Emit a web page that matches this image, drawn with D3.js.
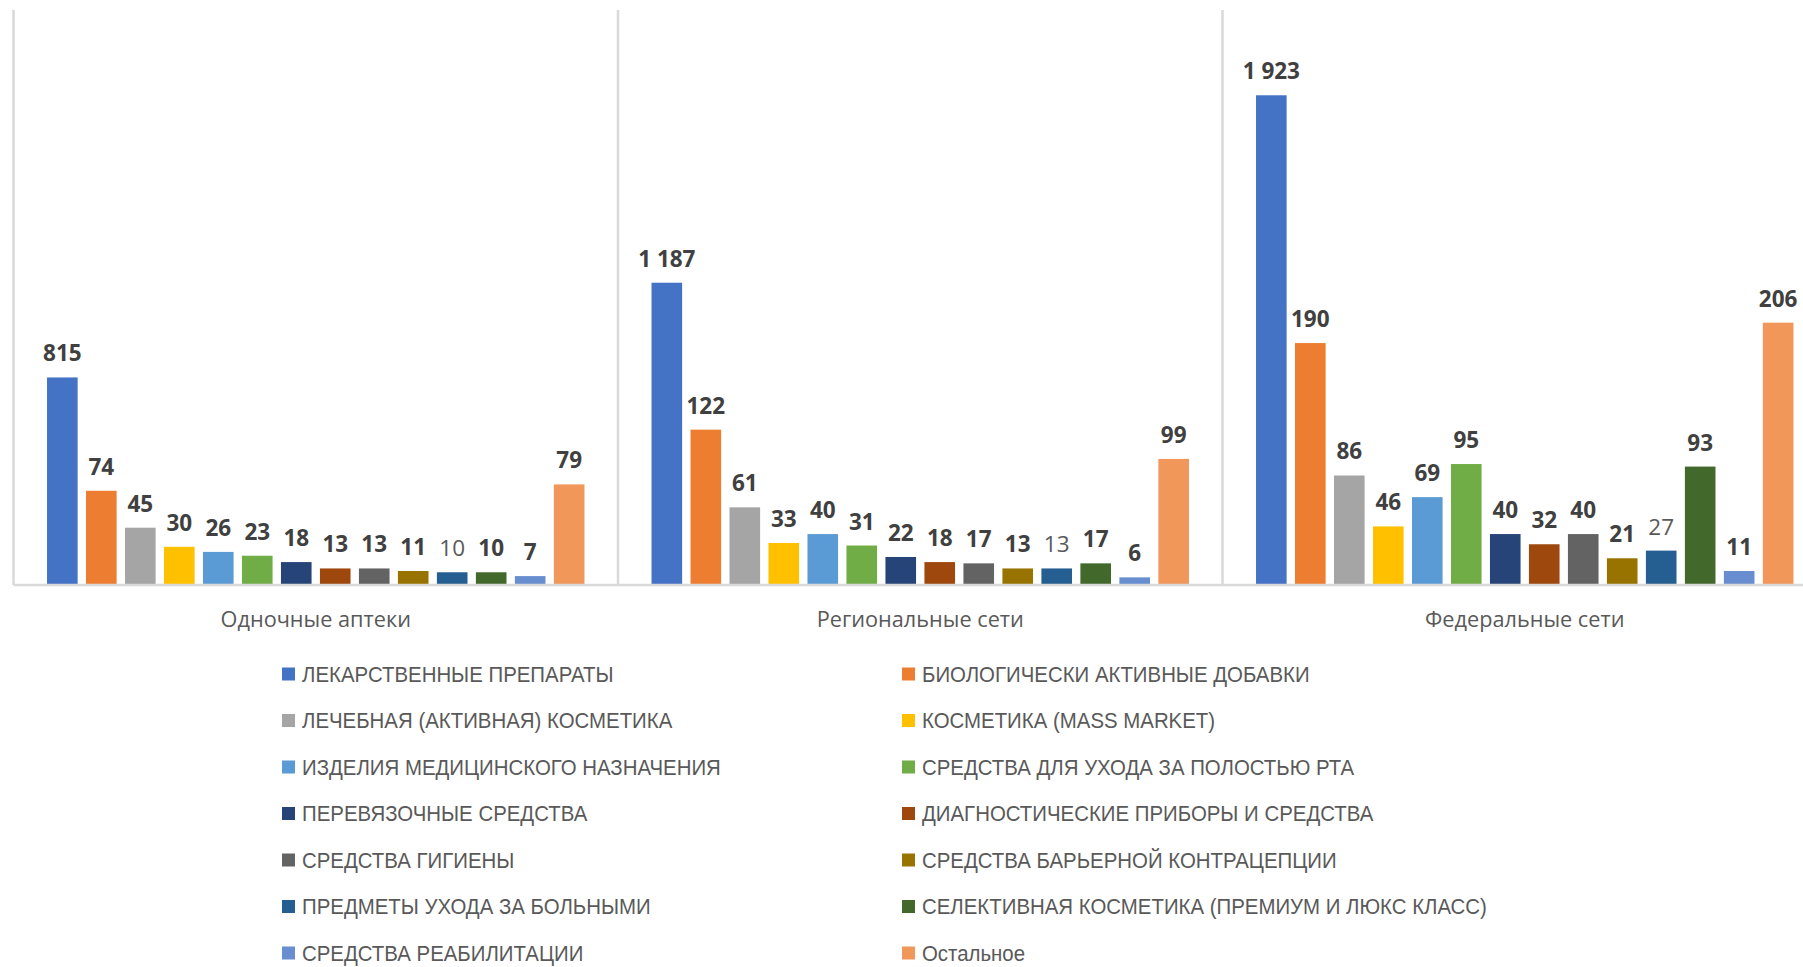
<!DOCTYPE html>
<html>
<head>
<meta charset="utf-8">
<script src="https://cdn.jsdelivr.net/npm/d3@7"></script>
<style>
  html, body { margin: 0; padding: 0; background: #ffffff; overflow: hidden; }
  svg { display: block; }
</style>
</head>
<body>
<svg id="chart" width="1803" height="967"></svg>
<script>
// ---------- data ----------
const categories = ["Одночные аптеки", "Региональные сети", "Федеральные сети"];

const seriesNames = [
  "ЛЕКАРСТВЕННЫЕ ПРЕПАРАТЫ",
  "БИОЛОГИЧЕСКИ АКТИВНЫЕ ДОБАВКИ",
  "ЛЕЧЕБНАЯ (АКТИВНАЯ) КОСМЕТИКА",
  "КОСМЕТИКА (MASS MARKET)",
  "ИЗДЕЛИЯ МЕДИЦИНСКОГО НАЗНАЧЕНИЯ",
  "СРЕДСТВА ДЛЯ УХОДА ЗА ПОЛОСТЬЮ РТА",
  "ПЕРЕВЯЗОЧНЫЕ СРЕДСТВА",
  "ДИАГНОСТИЧЕСКИЕ ПРИБОРЫ И СРЕДСТВА",
  "СРЕДСТВА ГИГИЕНЫ",
  "СРЕДСТВА БАРЬЕРНОЙ КОНТРАЦЕПЦИИ",
  "ПРЕДМЕТЫ УХОДА ЗА БОЛЬНЫМИ",
  "СЕЛЕКТИВНАЯ КОСМЕТИКА (ПРЕМИУМ И ЛЮКС КЛАСС)",
  "СРЕДСТВА РЕАБИЛИТАЦИИ",
  "Остальное"
];

// values per series, in category order
const lekarstva   = [815, 1187, 1923];
const bady        = [74, 122, 190];
const lechKosm    = [45, 61, 86];
const massMarket  = [30, 33, 46];
const izdeliya    = [26, 40, 69];
const polostRta   = [23, 31, 95];
const perevyaz    = [18, 22, 40];
const diagnost    = [13, 18, 32];
const gigiena     = [13, 17, 40];
const barrier     = [11, 13, 21];
const uhod        = [10, 13, 27];
const selektiv    = [10, 17, 93];
const reabil      = [7, 6, 11];
const ostalnoe    = [79, 99, 206];

const seriesValues = [lekarstva, bady, lechKosm, massMarket, izdeliya, polostRta,
  perevyaz, diagnost, gigiena, barrier, uhod, selektiv, reabil, ostalnoe];

// first series is plotted on a secondary (hidden) value axis
const primaryMax = 450;
const secondaryMax = 2250;

const colors = ["#4472C4", "#ED7D31", "#A5A5A5", "#FFC000", "#5B9BD5", "#70AD47",
  "#264478", "#9E480E", "#636363", "#997300", "#255E91", "#43682B", "#698ED0", "#F1975A"];

// ---------- layout ----------
const W = 1803, H = 967;
const plotLeft = 13.5, bandW = 604.5;
const plotTop = 12, baseY = 585;

const svg = d3.select("#chart");
svg.append("rect").attr("width", W).attr("height", H).attr("fill", "#fff");

const x0 = d3.scaleBand().domain(categories)
  .range([plotLeft, plotLeft + bandW * categories.length]).padding(0);
const x1 = d3.scaleBand().domain(d3.range(seriesNames.length))
  .range([0, x0.bandwidth()]).paddingInner(0.215).paddingOuter(0.86);
const yPrim = d3.scaleLinear().domain([0, primaryMax]).range([baseY, plotTop]);
const ySec = d3.scaleLinear().domain([0, secondaryMax]).range([baseY, plotTop]);
const yFor = i => (i === 0 ? ySec : yPrim);

const fmt = d3.formatLocale({ decimal: ",", thousands: " ", grouping: [3], currency: ["", ""] }).format(",");

// separators (category axis tick lines)
const sepX = categories.map(c => x0(c));
svg.append("g").selectAll("line").data(sepX).join("line")
  .attr("x1", d => d).attr("x2", d => d)
  .attr("y1", 10).attr("y2", baseY)
  .attr("stroke", "#D9D9D9").attr("stroke-width", 2.5);

// bars
const flat = [];
categories.forEach((c, ci) => {
  seriesValues.forEach((vals, si) => flat.push({ c, ci, si, v: vals[ci] }));
});

svg.append("g").selectAll("rect").data(flat).join("rect")
  .attr("x", d => x0(d.c) + x1(d.si))
  .attr("width", x1.bandwidth())
  .attr("y", d => yFor(d.si)(d.v))
  .attr("height", d => baseY - yFor(d.si)(d.v))
  .attr("fill", d => colors[d.si]);

// baseline
svg.append("line")
  .attr("x1", plotLeft).attr("x2", W)
  .attr("y1", baseY).attr("y2", baseY)
  .attr("stroke", "#D9D9D9").attr("stroke-width", 2.5);

// data labels
const labels = svg.append("g").selectAll("text").data(flat).join("text")
  .attr("x", d => x0(d.c) + x1(d.si) + x1.bandwidth() / 2)
  .attr("y", d => yFor(d.si)(d.v) - 16)
  .attr("text-anchor", "middle")
  .attr("font-family", "'Open Sans', sans-serif")
  .attr("font-size", 22.5)
  .attr("font-weight", d => (d.si === 10 ? 400 : 700))
  .attr("fill", d => (d.si === 10 ? "#595959" : "#404040"))
  .text(d => fmt(d.v));

// keep labels within the chart area
labels.each(function () {
  const b = this.getBBox();
  if (b.x + b.width > W - 1) {
    const shift = b.x + b.width - (W - 1);
    d3.select(this).attr("x", +d3.select(this).attr("x") - shift);
  }
});

// category labels
svg.append("g").selectAll("text").data(categories).join("text")
  .attr("x", d => x0(d) + x0.bandwidth() / 2)
  .attr("y", 627)
  .attr("text-anchor", "middle")
  .attr("font-family", "'Open Sans', sans-serif")
  .attr("font-size", 21.7)
  .attr("fill", "#595959")
  .text(d => d);

// legend
const legX = [282, 902], legY0 = 674, legStep = 46.5, mk = 13;
const leg = svg.append("g").selectAll("g").data(seriesNames).join("g")
  .attr("transform", (d, i) => `translate(${legX[i % 2]},${legY0 + Math.floor(i / 2) * legStep})`);
leg.append("rect")
  .attr("x", 0).attr("y", -mk / 2).attr("width", mk).attr("height", mk)
  .attr("fill", (d, i) => colors[i]);
leg.append("text")
  .attr("transform", "translate(20,0) scale(0.95,1)")
  .attr("dy", "0.35em")
  .attr("font-family", "'Liberation Sans', Arial, sans-serif")
  .attr("font-size", 21.5)
  .attr("fill", "#595959")
  .text(d => d);
</script>
</body>
</html>
